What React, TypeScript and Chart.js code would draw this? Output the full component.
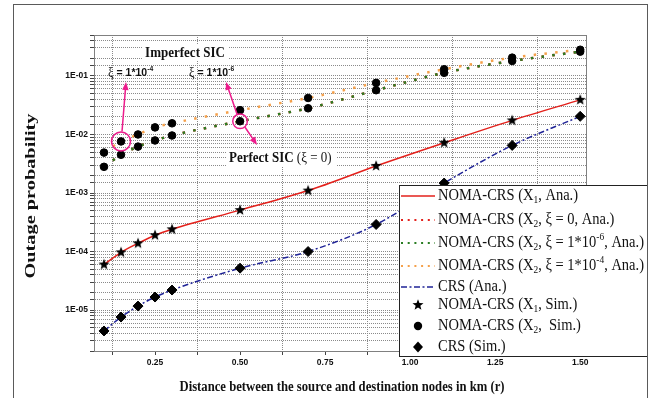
import React, { useEffect, useRef } from 'react';
import { Chart, registerables } from 'chart.js';

Chart.register(...registerables);

// ---------- data ----------
const distances = [0.1, 0.15, 0.2, 0.25, 0.3, 0.5, 0.7, 0.9, 1.1, 1.3, 1.5];
const xTickValues = [0.125, 0.25, 0.375, 0.5, 0.625, 0.75, 0.875, 1.0, 1.125, 1.25, 1.375, 1.5];

const x1Ana = [6.0e-5, 9.7e-5, 1.38e-4, 1.9e-4, 2.4e-4, 5.1e-4, 1.1e-3, 2.9e-3, 7.2e-3, 1.74e-2, 3.9e-2];
const x2Xi0Ana = [2.8e-3, 4.5e-3, 6.2e-3, 7.9e-3, 9.6e-3, 1.68e-2, 2.8e-2, 5.7e-2, 0.113, 0.18, 0.26];
const x2Xi6Ana = [2.8e-3, 4.5e-3, 6.2e-3, 7.9e-3, 9.6e-3, 1.68e-2, 2.8e-2, 5.7e-2, 0.113, 0.18, 0.26];
const x2Xi4Ana = [4.9e-3, 7.6e-3, 1.0e-2, 1.32e-2, 1.55e-2, 2.6e-2, 4.2e-2, 7.6e-2, 0.13, 0.205, 0.28];
const crsAna = [4.4e-6, 7.6e-6, 1.17e-5, 1.67e-5, 2.2e-5, 5.2e-5, 1.0e-4, 2.9e-4, 1.48e-3, 6.5e-3, 2.04e-2];

const x1Sim = [6.0e-5, 9.7e-5, 1.38e-4, 1.9e-4, 2.4e-4, 5.1e-4, 1.1e-3, 2.9e-3, 7.2e-3, 1.74e-2, 3.9e-2];
const x2SimLow = [2.8e-3, 4.5e-3, 6.2e-3, 7.9e-3, 9.6e-3, 1.68e-2, 2.8e-2, 5.7e-2, 0.113, 0.18, 0.26];
const x2SimHigh = [4.9e-3, 7.6e-3, 1.0e-2, 1.32e-2, 1.55e-2, 2.6e-2, 4.2e-2, 7.6e-2, 0.13, 0.205, 0.28];
const crsSim = [4.4e-6, 7.6e-6, 1.17e-5, 1.67e-5, 2.2e-5, 5.2e-5, 1.0e-4, 2.9e-4, 1.48e-3, 6.5e-3, 2.04e-2];

type Seg = { t: string; k?: 'sub' | 'sup'; fam?: string; w?: string; sz?: number };

const legendLabels: Seg[][] = [
  [{ t: 'NOMA-CRS (X' }, { t: '1', k: 'sub' }, { t: ', Ana.)' }],
  [{ t: 'NOMA-CRS (X' }, { t: '2', k: 'sub' }, { t: ', \u03BE = 0, Ana.)' }],
  [{ t: 'NOMA-CRS (X' }, { t: '2', k: 'sub' }, { t: ', \u03BE = 1*10' }, { t: '-6', k: 'sup' }, { t: ', Ana.)' }],
  [{ t: 'NOMA-CRS (X' }, { t: '2', k: 'sub' }, { t: ', \u03BE = 1*10' }, { t: '-4', k: 'sup' }, { t: ', Ana.)' }],
  [{ t: 'CRS (Ana.)' }],
  [{ t: 'NOMA-CRS (X' }, { t: '1', k: 'sub' }, { t: ', Sim.)' }],
  [{ t: 'NOMA-CRS (X' }, { t: '2', k: 'sub' }, { t: ',  Sim.)' }],
  [{ t: 'CRS (Sim.)' }],
];

const yTitle = 'Outage probability';
const xTitle = 'Distance between the source and destination nodes in km (r)';
const imperfectLabel = 'Imperfect SIC';

// ---------- styling ----------
const SERIF = '"Liberation Serif", "Times New Roman", serif';
const SANS = '"Liberation Sans", Arial, sans-serif';
const RED = '#e3201b';
const GREEN = '#2a7d22';
const ORANGE = '#f5a04a';
const BLUE = '#1f2396';
const PINK = '#ec1c8c';
const GRID = '#8a8a8a';
const DOT_DASH = [2.5, 8.3];
const DASH_DOT = [6, 2.5, 2, 2.5];

function starPath(g: CanvasRenderingContext2D, cx: number, cy: number, R: number, r: number) {
  g.beginPath();
  for (let i = 0; i < 10; i++) {
    const rad = i % 2 === 0 ? R : r;
    const a = -Math.PI / 2 + (i * Math.PI) / 5;
    const px = cx + rad * Math.cos(a);
    const py = cy + rad * Math.sin(a);
    if (i === 0) g.moveTo(px, py);
    else g.lineTo(px, py);
  }
  g.closePath();
}

function makeStar(R: number): HTMLCanvasElement {
  const c = document.createElement('canvas');
  const s = Math.ceil(R * 2 + 2);
  c.width = s;
  c.height = s;
  const g = c.getContext('2d')!;
  starPath(g, s / 2, s / 2, R, R * 0.42);
  g.fillStyle = '#000';
  g.fill();
  return c;
}

function drawRich(
  ctx: CanvasRenderingContext2D,
  segs: Seg[],
  x: number,
  y: number,
  size: number,
  fam: string,
  weight: string,
  align: 'left' | 'center' = 'left',
  sy = 1
) {
  ctx.save();
  ctx.textBaseline = 'middle';
  ctx.textAlign = 'left';
  const parts = segs.map((s) => {
    const base = s.sz ?? size;
    const fs = s.k ? base * 0.65 : base;
    const font = `${s.w ?? weight} ${fs}px ${s.fam ?? fam}`;
    ctx.font = font;
    return {
      s,
      font,
      w: ctx.measureText(s.t).width,
      dy: s.k === 'sub' ? base * 0.28 : s.k === 'sup' ? -base * 0.38 : 0,
    };
  });
  const total = parts.reduce((a, p) => a + p.w, 0);
  let cx = align === 'center' ? -total / 2 : 0;
  ctx.translate(x, y);
  ctx.scale(1, sy);
  for (const p of parts) {
    ctx.font = p.font;
    ctx.fillText(p.s.t, cx, p.dy);
    cx += p.w;
  }
  ctx.restore();
  return total;
}

function arrow(ctx: CanvasRenderingContext2D, x1: number, y1: number, x2: number, y2: number) {
  const a = Math.atan2(y2 - y1, x2 - x1);
  const L = 8;
  const W = 3.2;
  ctx.beginPath();
  ctx.moveTo(x1, y1);
  ctx.lineTo(x2 - L * 0.8 * Math.cos(a), y2 - L * 0.8 * Math.sin(a));
  ctx.stroke();
  ctx.beginPath();
  ctx.moveTo(x2, y2);
  ctx.lineTo(x2 - L * Math.cos(a) + W * Math.sin(a), y2 - L * Math.sin(a) - W * Math.cos(a));
  ctx.lineTo(x2 - L * Math.cos(a) - W * Math.sin(a), y2 - L * Math.sin(a) + W * Math.cos(a));
  ctx.closePath();
  ctx.fill();
}

function pts(values: number[]) {
  return distances.map((d, i) => ({ x: d, y: values[i] }));
}

export default function App() {
  const ref = useRef<HTMLCanvasElement | null>(null);

  useEffect(() => {
    document.body.style.margin = '0';
    const canvas = ref.current;
    if (!canvas) return;
    const star = makeStar(5.8);

    const decor = {
      id: 'decor',
      beforeDatasetsDraw(chart: any) {
        const ctx: CanvasRenderingContext2D = chart.ctx;
        ctx.save();
        ctx.fillStyle = '#fff';
        ctx.fillRect(227, 149, 110, 18);
        ctx.fillRect(143, 45, 85, 16);
        ctx.restore();
      },
      afterDatasetsDraw(chart: any) {
        const ctx: CanvasRenderingContext2D = chart.ctx;
        const { left, right, top, bottom } = chart.chartArea;
        const xs = chart.scales.x;
        const ys = chart.scales.y;
        ctx.save();
        ctx.strokeStyle = '#808080';
        ctx.lineWidth = 1;
        ctx.strokeRect(left + 0.5, top + 0.5, right - left - 1, bottom - top);

        ctx.fillStyle = '#111';
        drawRich(ctx, [{ t: imperfectLabel }], 185, 53, 13, SERIF, 'bold', 'center', 1.12);
        drawRich(
          ctx,
          [
            { t: '\u03BE', fam: SERIF, w: 'normal', sz: 12.5 },
            { t: ' = 1*10' },
            { t: '-4', k: 'sup', sz: 10.5 },
          ],
          108,
          73,
          10.5,
          SANS,
          'bold',
          'left',
          1.1
        );
        drawRich(
          ctx,
          [
            { t: '\u03BE', fam: SERIF, w: 'normal', sz: 12.5 },
            { t: ' = 1*10' },
            { t: '-6', k: 'sup', sz: 10.5 },
          ],
          189,
          73,
          10.5,
          SANS,
          'bold',
          'left',
          1.1
        );
        drawRich(
          ctx,
          [{ t: 'Perfect SIC ' }, { t: '(\u03BE = 0)', w: 'normal' }],
          229,
          158,
          13,
          SERIF,
          'bold',
          'left',
          1.12
        );

        const c1 = { x: xs.getPixelForValue(0.15), y: ys.getPixelForValue(x2SimHigh[1]) };
        const c2 = { x: xs.getPixelForValue(0.5), y: ys.getPixelForValue(x2SimLow[5]) };
        ctx.strokeStyle = PINK;
        ctx.fillStyle = PINK;
        ctx.lineWidth = 1.5;
        ctx.beginPath();
        ctx.arc(c1.x, c1.y, 9.5, 0, Math.PI * 2);
        ctx.stroke();
        ctx.beginPath();
        ctx.arc(c2.x, c2.y, 7.3, 0, Math.PI * 2);
        ctx.stroke();
        arrow(ctx, c1.x + 1, c1.y - 10, c1.x + 5, 82);
        arrow(ctx, c2.x - 3, c2.y - 7, 226, 82);
        arrow(ctx, c2.x + 5, c2.y + 6, 257, 145);
        ctx.restore();
      },
      afterDraw(chart: any) {
        const ctx: CanvasRenderingContext2D = chart.ctx;
        ctx.save();
        ctx.fillStyle = '#111';
        ctx.textAlign = 'center';
        ctx.textBaseline = 'middle';
        ctx.save();
        ctx.translate(31, 196);
        ctx.rotate(-Math.PI / 2);
        ctx.font = `bold 15px ${SERIF}`;
        const wy = ctx.measureText(yTitle).width;
        ctx.scale(165 / wy, 1);
        ctx.fillText(yTitle, 0, 0);
        ctx.restore();
        ctx.save();
        ctx.translate(342, 387);
        ctx.font = `bold 12.5px ${SERIF}`;
        const wx = ctx.measureText(xTitle).width;
        ctx.scale(325 / wx, 1.15);
        ctx.fillText(xTitle, 0, 0);
        ctx.restore();

        // legend
        const bx = 399.5;
        const by = 185.5;
        const bw = 248;
        const bh = 171;
        ctx.fillStyle = '#fff';
        ctx.fillRect(bx, by, bw, bh);
        ctx.strokeStyle = '#222';
        ctx.lineWidth = 1;
        ctx.strokeRect(bx, by, bw, bh);

        const rowsY = [196, 220, 243, 266, 287, 305, 326, 347];
        const lx1 = 401;
        const lx2 = 435;
        const mx = 418;
        const lineStyles = [
          { c: RED, d: [] as number[], w: 1.5 },
          { c: RED, d: [2, 4.7], w: 2 },
          { c: GREEN, d: [2, 4.7], w: 2 },
          { c: ORANGE, d: [2, 4.7], w: 2 },
          { c: BLUE, d: DASH_DOT, w: 1.5 },
        ];
        lineStyles.forEach((ls, i) => {
          ctx.save();
          ctx.strokeStyle = ls.c;
          ctx.lineWidth = ls.w;
          ctx.setLineDash(ls.d);
          ctx.beginPath();
          ctx.moveTo(lx1, rowsY[i]);
          ctx.lineTo(lx2, rowsY[i]);
          ctx.stroke();
          ctx.restore();
        });
        ctx.fillStyle = '#000';
        ctx.drawImage(star, mx - star.width / 2, rowsY[5] - star.height / 2);
        ctx.beginPath();
        ctx.arc(mx, rowsY[6], 4.2, 0, Math.PI * 2);
        ctx.fill();
        ctx.beginPath();
        ctx.moveTo(mx, rowsY[7] - 5.5);
        ctx.lineTo(mx + 5, rowsY[7]);
        ctx.lineTo(mx, rowsY[7] + 5.5);
        ctx.lineTo(mx - 5, rowsY[7]);
        ctx.closePath();
        ctx.fill();

        ctx.fillStyle = '#111';
        legendLabels.forEach((segs, i) => {
          drawRich(ctx, segs, 438, rowsY[i], 14.5, SERIF, 'normal', 'left', 1.1);
        });

        ctx.strokeStyle = '#5a5a5a';
        ctx.lineWidth = 1;
        ctx.strokeRect(13.5, 4.5, 634, 420);
        ctx.restore();
      },
    };

    const isOddEighth = (v: number) => {
      const q = v / 0.125;
      return Math.abs(q - Math.round(q)) < 1e-6 && Math.round(q) % 2 === 1;
    };

    const chart = new Chart(canvas, {
      type: 'scatter',
      data: {
        datasets: [
          {
            label: 'NOMA-CRS (X1, Ana.)',
            data: pts(x1Ana),
            showLine: true,
            borderColor: RED,
            borderWidth: 1.5,
            pointRadius: 0,
            cubicInterpolationMode: 'monotone',
            order: 10,
          },
          {
            label: 'NOMA-CRS (X2, xi = 0, Ana.)',
            data: pts(x2Xi0Ana),
            showLine: true,
            borderColor: RED,
            borderWidth: 2.5,
            borderDash: DOT_DASH,
            borderCapStyle: 'butt',
            pointRadius: 0,
            cubicInterpolationMode: 'monotone',
            order: 13,
          },
          {
            label: 'NOMA-CRS (X2, xi = 1e-6, Ana.)',
            data: pts(x2Xi6Ana),
            showLine: true,
            borderColor: GREEN,
            borderWidth: 2.5,
            borderDash: DOT_DASH,
            borderCapStyle: 'butt',
            pointRadius: 0,
            cubicInterpolationMode: 'monotone',
            order: 12,
          },
          {
            label: 'NOMA-CRS (X2, xi = 1e-4, Ana.)',
            data: pts(x2Xi4Ana),
            showLine: true,
            borderColor: ORANGE,
            borderWidth: 2.5,
            borderDash: DOT_DASH,
            borderCapStyle: 'butt',
            pointRadius: 0,
            cubicInterpolationMode: 'monotone',
            order: 11,
          },
          {
            label: 'CRS (Ana.)',
            data: pts(crsAna),
            showLine: true,
            borderColor: BLUE,
            borderWidth: 1.5,
            borderDash: DASH_DOT,
            pointRadius: 0,
            cubicInterpolationMode: 'monotone',
            order: 10,
          },
          {
            label: 'NOMA-CRS (X1, Sim.)',
            data: pts(x1Sim),
            showLine: false,
            pointStyle: star as any,
            pointRadius: 5,
            order: 1,
          },
          {
            label: 'NOMA-CRS (X2, Sim.)',
            data: [...pts(x2SimLow), ...pts(x2SimHigh)],
            showLine: false,
            pointStyle: 'circle',
            pointRadius: 3.8,
            pointBorderWidth: 1,
            backgroundColor: '#000',
            borderColor: '#000',
            order: 1,
          },
          {
            label: 'CRS (Sim.)',
            data: pts(crsSim),
            showLine: false,
            pointStyle: 'rectRot',
            pointRadius: 5,
            pointBorderWidth: 1,
            backgroundColor: '#000',
            borderColor: '#000',
            order: 1,
          },
        ],
      },
      options: {
        animation: false,
        responsive: false,
        devicePixelRatio: 1,
        layout: { padding: { left: 0, top: 35, right: 68, bottom: 0 } },
        plugins: { legend: { display: false }, tooltip: { enabled: false } },
        scales: {
          x: {
            type: 'linear',
            min: 0.0706,
            max: 1.52,
            afterBuildTicks: (s: any) => {
              s.ticks = xTickValues.map((v) => ({ value: v }));
            },
            afterFit: (s: any) => {
              s.height = 47;
            },
            ticks: {
              autoSkip: false,
              maxRotation: 0,
              padding: 3,
              color: '#111',
              font: { family: SANS, size: 8.5, weight: 'bold' },
              callback: (v: any) => (isOddEighth(Number(v)) ? '' : Number(v).toFixed(2)),
            },
            grid: {
              color: (c: any) => (c.tick && isOddEighth(c.tick.value) ? GRID : 'rgba(0,0,0,0)'),
              lineWidth: 1,
              tickLength: 4,
              tickColor: '#444',
              drawTicks: true,
            },
            border: { display: true, color: '#808080', dash: [1, 1] },
          },
          y: {
            type: 'logarithmic',
            min: 2e-6,
            max: 0.5,
            afterFit: (s: any) => {
              s.width = 94;
            },
            ticks: {
              autoSkip: false,
              padding: 2,
              color: '#111',
              font: { family: SANS, size: 8.5, weight: 'bold' },
              callback: (v: any) => {
                const l = Math.log10(Number(v));
                const r = Math.round(l);
                if (Math.abs(l - r) < 1e-6) return '1E-' + String(-r).padStart(2, '0');
                return '';
              },
            },
            grid: {
              color: GRID,
              lineWidth: 1,
              tickLength: 4,
              tickColor: '#444',
              drawTicks: true,
            },
            border: { display: true, color: '#808080', dash: [1, 1] },
          },
        },
      },
      plugins: [decor],
    } as any);

    return () => {
      chart.destroy();
    };
  }, []);

  return (
    <div style={{ width: 655, height: 398 }}>
      <canvas ref={ref} width={655} height={398} style={{ display: 'block' }} />
    </div>
  );
}
